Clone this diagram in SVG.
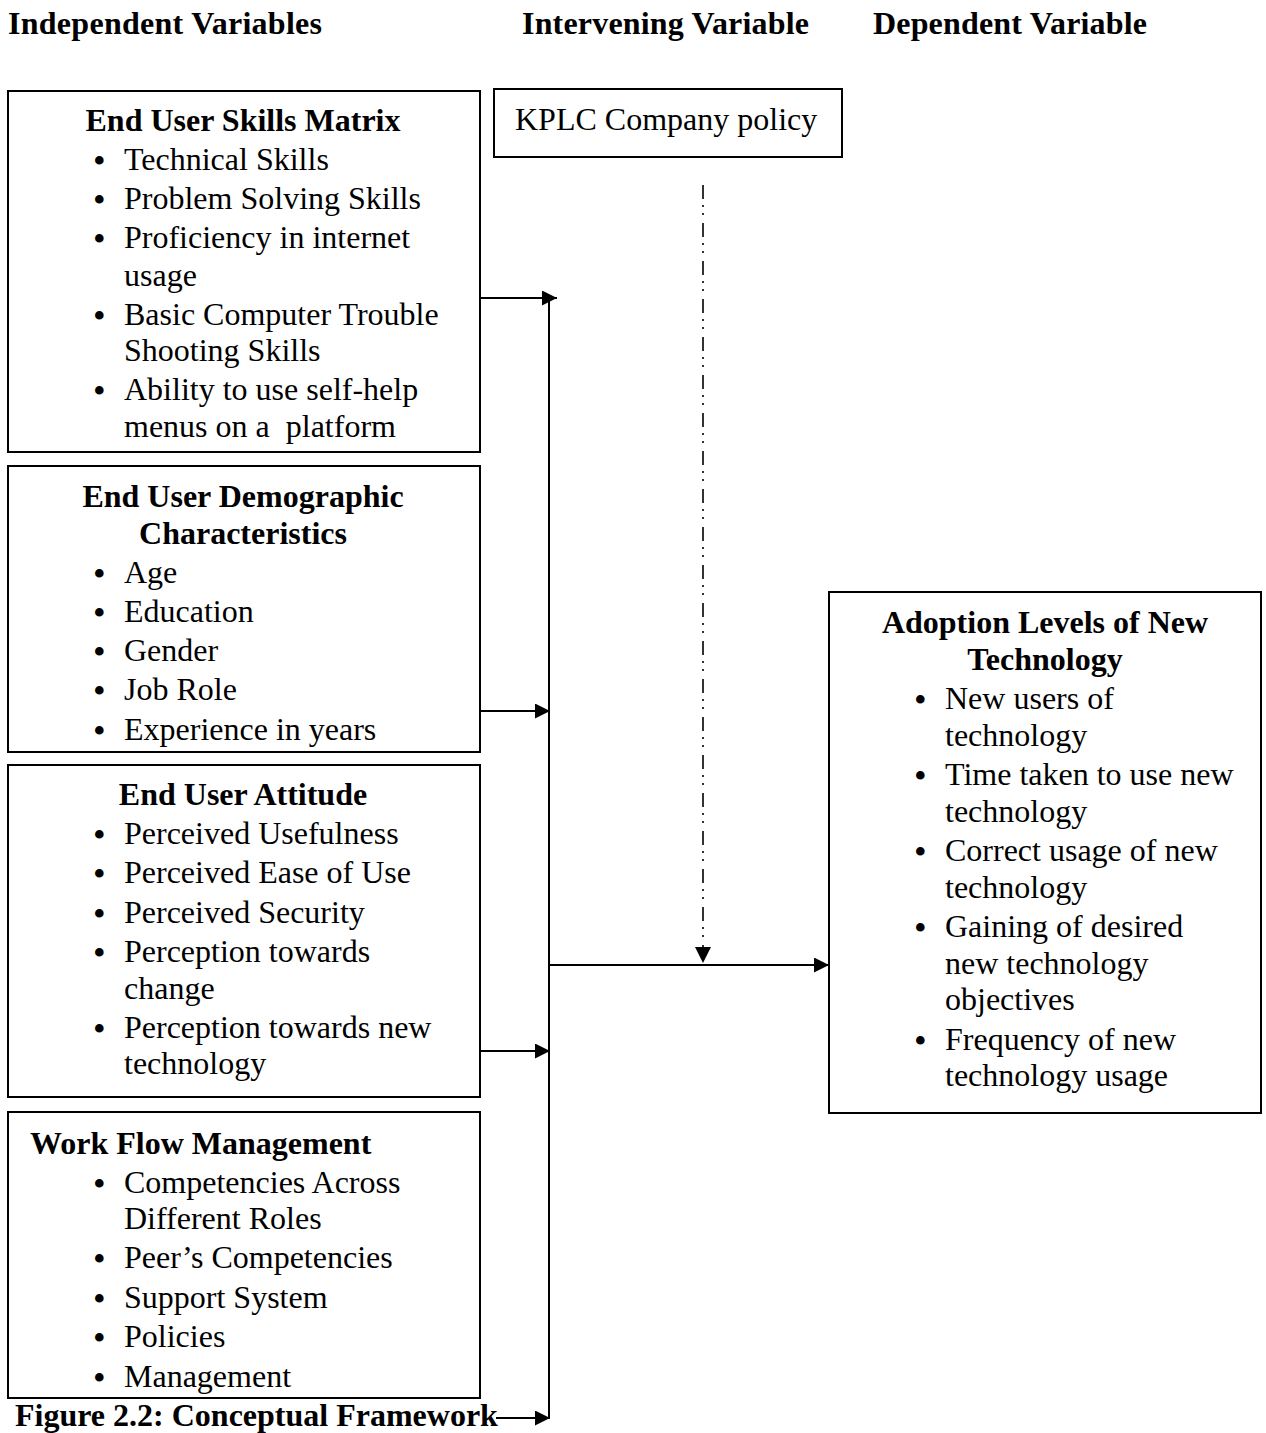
<svg xmlns="http://www.w3.org/2000/svg" width="1266" height="1433" viewBox="0 0 1266 1433">
<style>
text{font-family:"Liberation Serif","Times New Roman",serif;font-size:32px;fill:#000}
.b{font-weight:bold}
.c{text-anchor:middle}
.u{font-size:36px}
.box{fill:#fff;stroke:#000;stroke-width:2}
.ln{fill:none;stroke:#000;stroke-width:2}
.dd{fill:none;stroke:#000;stroke-width:1.6;stroke-dasharray:14 6 2 6 2 8}
</style>
<defs>
<marker id="ah" markerWidth="16" markerHeight="16" refX="15" refY="7.5" orient="auto" markerUnits="userSpaceOnUse">
<path d="M0,0 L15,7.5 L0,15 Z" fill="#000"/>
</marker>
<clipPath id="c1"><rect x="8" y="91" width="472" height="361"/></clipPath>
<clipPath id="c2"><rect x="8" y="466" width="472" height="286"/></clipPath>
<clipPath id="c4"><rect x="8" y="1112" width="472" height="286"/></clipPath>
</defs>

<g id="headers">
<text class="b" x="8" y="34" textLength="314">Independent Variables</text>
<text class="b" x="522" y="34" textLength="287">Intervening Variable</text>
<text class="b" x="873" y="34" textLength="274">Dependent Variable</text>
</g>

<g id="skills">
<rect class="box" x="8" y="91" width="472" height="361"/>
<g clip-path="url(#c1)">
<text class="b c" x="243" y="131">End User Skills Matrix</text>
<text class="u" x="93" y="173">•</text><text x="124" y="170">Technical Skills</text>
<text class="u" x="93" y="212">•</text><text x="124" y="209">Problem Solving Skills</text>
<text class="u" x="93" y="251">•</text><text x="124" y="248">Proficiency in internet</text>
<text x="124" y="286">usage</text>
<text class="u" x="93" y="328">•</text><text x="124" y="325">Basic Computer Trouble</text>
<text x="124" y="361">Shooting Skills</text>
<text class="u" x="93" y="403">•</text><text x="124" y="400">Ability to use self-help</text>
<text x="124" y="437" xml:space="preserve">menus on a  platform</text>
</g>
</g>

<g id="demographic">
<rect class="box" x="8" y="466" width="472" height="286"/>
<g clip-path="url(#c2)">
<text class="b c" x="243" y="507">End User Demographic</text>
<text class="b c" x="243" y="544">Characteristics</text>
<text class="u" x="93" y="586">•</text><text x="124" y="583">Age</text>
<text class="u" x="93" y="625">•</text><text x="124" y="622">Education</text>
<text class="u" x="93" y="664">•</text><text x="124" y="661">Gender</text>
<text class="u" x="93" y="703">•</text><text x="124" y="700">Job Role</text>
<text class="u" x="93" y="743">•</text><text x="124" y="740">Experience in years</text>
</g>
</g>

<g id="attitude">
<rect class="box" x="8" y="765" width="472" height="332"/>
<text class="b c" x="243" y="805">End User Attitude</text>
<text class="u" x="93" y="847">•</text><text x="124" y="844">Perceived Usefulness</text>
<text class="u" x="93" y="886">•</text><text x="124" y="883">Perceived Ease of Use</text>
<text class="u" x="93" y="926">•</text><text x="124" y="923">Perceived Security</text>
<text class="u" x="93" y="965">•</text><text x="124" y="962">Perception towards</text>
<text x="124" y="999">change</text>
<text class="u" x="93" y="1041">•</text><text x="124" y="1038">Perception towards new</text>
<text x="124" y="1074">technology</text>
</g>

<g id="workflow">
<rect class="box" x="8" y="1112" width="472" height="286"/>
<g clip-path="url(#c4)">
<text class="b" x="30" y="1154">Work Flow Management</text>
<text class="u" x="93" y="1196">•</text><text x="124" y="1193">Competencies Across</text>
<text x="124" y="1229">Different Roles</text>
<text class="u" x="93" y="1271">•</text><text x="124" y="1268">Peer’s Competencies</text>
<text class="u" x="93" y="1311">•</text><text x="124" y="1308">Support System</text>
<text class="u" x="93" y="1350">•</text><text x="124" y="1347">Policies</text>
<text class="u" x="93" y="1390">•</text><text x="124" y="1387">Management</text>
</g>
</g>

<g id="caption">
<text class="b" x="15" y="1426">Figure 2.2: Conceptual Framework</text>
</g>

<g id="kplc">
<rect class="box" x="494" y="89" width="348" height="68"/>
<text x="515" y="130">KPLC Company policy</text>
</g>

<g id="adoption">
<rect class="box" x="829" y="592" width="432" height="521"/>
<text class="b c" x="1045" y="633">Adoption Levels of New</text>
<text class="b c" x="1045" y="670">Technology</text>
<text class="u" x="914" y="712">•</text><text x="945" y="709">New users of</text>
<text x="945" y="746">technology</text>
<text class="u" x="914" y="788">•</text><text x="945" y="785">Time taken to use new</text>
<text x="945" y="822">technology</text>
<text class="u" x="914" y="864">•</text><text x="945" y="861">Correct usage of new</text>
<text x="945" y="898">technology</text>
<text class="u" x="914" y="940">•</text><text x="945" y="937">Gaining of desired</text>
<text x="945" y="974">new technology</text>
<text x="945" y="1010">objectives</text>
<text class="u" x="914" y="1053">•</text><text x="945" y="1050">Frequency of new</text>
<text x="945" y="1086">technology usage</text>
</g>

<g id="connectors">
<line class="ln" x1="549" y1="298" x2="549" y2="1418"/>
<line class="ln" x1="480" y1="298" x2="557" y2="298" marker-end="url(#ah)"/>
<line class="ln" x1="480" y1="711" x2="550" y2="711" marker-end="url(#ah)"/>
<line class="ln" x1="480" y1="1051" x2="550" y2="1051" marker-end="url(#ah)"/>
<line class="ln" x1="496" y1="1418" x2="550" y2="1418" marker-end="url(#ah)"/>
<line class="ln" x1="549" y1="965" x2="829" y2="965" marker-end="url(#ah)"/>
<line class="dd" x1="703" y1="185" x2="703" y2="948"/>
<path d="M695,947 L711,947 L703,963 Z" fill="#000"/>
</g>
</svg>
